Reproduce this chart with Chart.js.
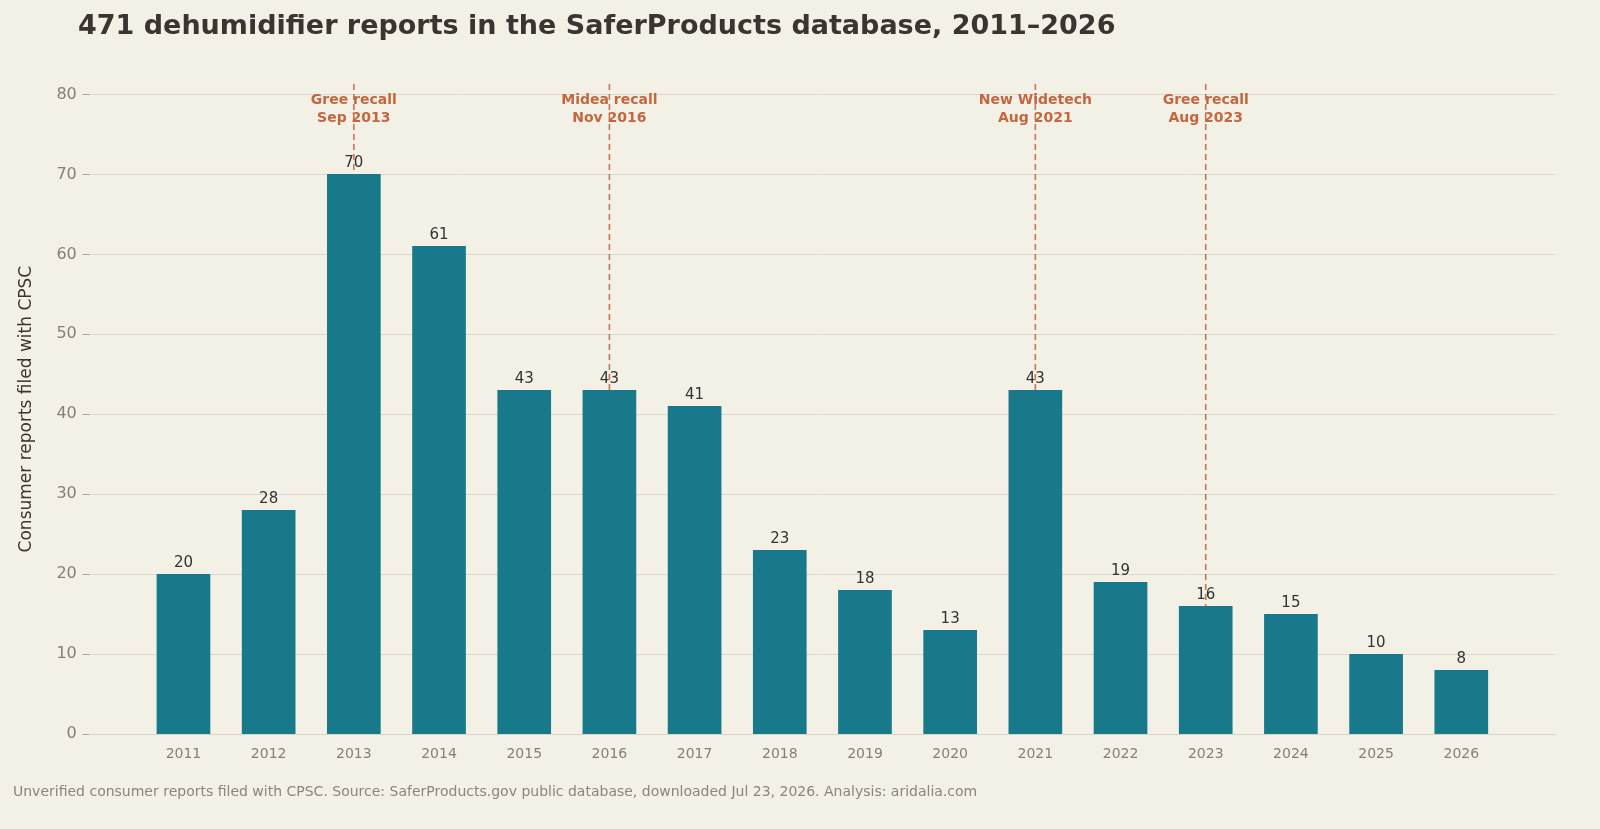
<!DOCTYPE html>
<html><head><meta charset="utf-8">
<script src="https://cdn.jsdelivr.net/npm/chart.js@4"></script>
<style>html,body{margin:0;background:#f3f0e5;overflow:hidden;}canvas{display:block;}</style>
</head><body>
<div style="width:1600px;height:829px"><canvas id="c"></canvas></div>
<script>
"use strict";
const years = [2011,2012,2013,2014,2015,2016,2017,2018,2019,2020,2021,2022,2023,2024,2025,2026];
const reports = [20,28,70,61,43,43,41,23,18,13,43,19,16,15,10,8];
const recallYears = [2013,2016,2021,2023];
const recallLabels = [["Gree recall","Sep 2013"],["Midea recall","Nov 2016"],["New Widetech","Aug 2021"],["Gree recall","Aug 2023"]];
const yTicks = [0,10,20,30,40,50,60,70,80];

const FONT = "DejaVu Sans";
const overlay = {
  id: "overlay",
  afterDatasetsDraw(chart) {
    const ctx = chart.ctx, x = chart.scales.x, y = chart.scales.y;
    ctx.save();
    // value labels
    ctx.fillStyle = "#333333";
    ctx.font = "15px " + FONT;
    ctx.textAlign = "center";
    ctx.textBaseline = "bottom";
    years.forEach((yr, i) => {
      ctx.fillText(String(reports[i]), x.getPixelForValue(yr), y.getPixelForValue(reports[i]) - 4);
    });
    // recall lines
    ctx.strokeStyle = "#c97457";
    ctx.lineWidth = 1.6;
    ctx.setLineDash([6, 4]);
    recallYears.forEach((yr) => {
      const px = x.getPixelForValue(yr);
      const top = y.getPixelForValue(y.max);
      const bottom = y.getPixelForValue(reports[years.indexOf(yr)]);
      ctx.beginPath(); ctx.moveTo(px, top); ctx.lineTo(px, bottom); ctx.stroke();
    });
    ctx.setLineDash([]);
    ctx.fillStyle = "#c2673f";
    ctx.font = "bold 14px " + FONT;
    ctx.textBaseline = "middle";
    recallYears.forEach((yr, i) => {
      const px = x.getPixelForValue(yr);
      ctx.fillText(recallLabels[i][0], px, y.getPixelForValue(79.2));
      ctx.fillText(recallLabels[i][1], px, y.getPixelForValue(77.0));
    });
    // title and footer
    ctx.textAlign = "left";
    ctx.textBaseline = "alphabetic";
    ctx.fillStyle = "#3a3530";
    ctx.font = "bold 27px " + FONT;
    ctx.fillText("471 dehumidifier reports in the SaferProducts database, 2011\u20132026", 78, 34);
    ctx.fillStyle = "#8a8580";
    ctx.font = "14px " + FONT;
    ctx.fillText("Unverified consumer reports filed with CPSC. Source: SaferProducts.gov public database, downloaded Jul 23, 2026. Analysis: aridalia.com", 13, 796);
    ctx.restore();
  }
};

new Chart(document.getElementById("c"), {
  type: "bar",
  data: {
    datasets: [{
      data: years.map((yr, i) => ({ x: yr, y: reports[i] })),
      backgroundColor: "#17798a",
      barThickness: 53
    }]
  },
  options: {
    responsive: true,
    maintainAspectRatio: false,
    animation: false,
    layout: { padding: { top: 84, right: 45, bottom: 60, left: 12 } },
    plugins: { legend: { display: false }, tooltip: { enabled: false } },
    scales: {
      x: {
        type: "linear", min: 2009.9, max: 2027.1, offset: false,
        afterBuildTicks(s) { s.ticks = years.map(v => ({ value: v })); },
        ticks: { color: "#857f78", font: { family: FONT, size: 14 }, callback: v => String(v), padding: 6 },
        grid: { display: false, drawTicks: true, tickLength: 6, tickColor: "#d6d1c6" },
        border: { color: "#d9d4ca" }
      },
      y: {
        min: 0, max: 81.3,
        afterBuildTicks(s) { s.ticks = yTicks.map(v => ({ value: v })); },
        ticks: { color: "#857f78", font: { family: FONT, size: 16 }, padding: 6 },
        grid: { color: "#dcd8cd", tickLength: 7, tickColor: "#aaa49b" },
        border: { display: false },
        title: { display: true, text: "Consumer reports filed with CPSC", color: "#3a3530", font: { family: FONT, size: 17 }, padding: { bottom: 14 } }
      }
    }
  },
  plugins: [overlay]
});
</script>
</body></html>
